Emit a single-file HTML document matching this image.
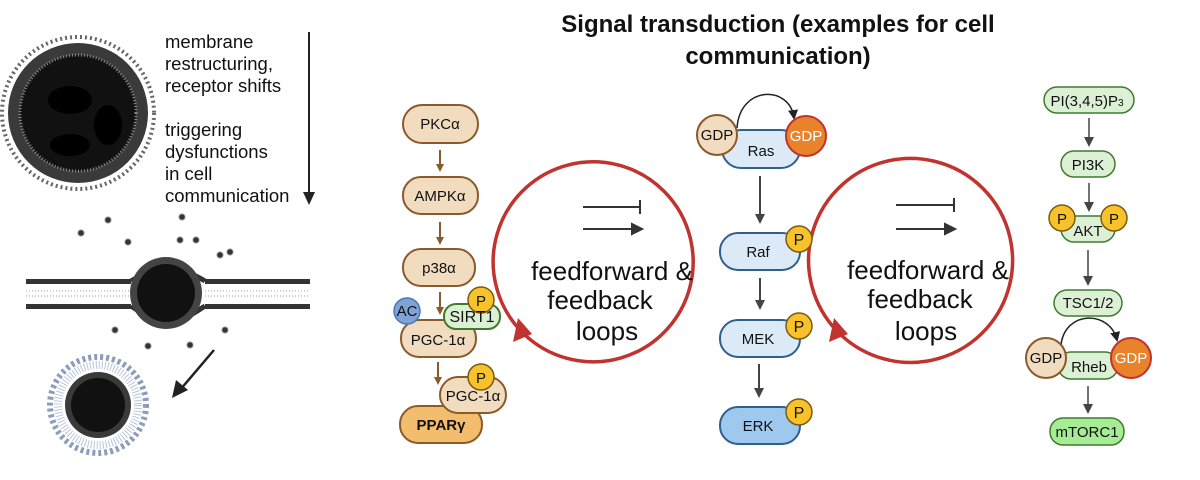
<!DOCTYPE html>
<html><head><meta charset="utf-8"><style>
html,body{margin:0;padding:0;background:#fff;}
svg{display:block;font-family:"Liberation Sans",sans-serif;}
</style></head><body>
<svg width="1200" height="480" viewBox="0 0 1200 480" xmlns="http://www.w3.org/2000/svg">
<defs>
<marker id="ab" markerWidth="8" markerHeight="8" refX="6" refY="4" orient="auto" markerUnits="userSpaceOnUse"><path d="M0,0 L8,4 L0,8 z" fill="#8a5a2b"/></marker>
<marker id="ag" markerWidth="10" markerHeight="10" refX="8" refY="5" orient="auto" markerUnits="userSpaceOnUse"><path d="M0,0 L10,5 L0,10 z" fill="#444"/></marker>
<marker id="ak" markerWidth="10" markerHeight="10" refX="8" refY="5" orient="auto" markerUnits="userSpaceOnUse"><path d="M0,0 L10,5 L0,10 z" fill="#222"/></marker>
</defs>

<!-- Left illustrations -->
<circle cx="78" cy="113" r="76" fill="none" stroke="#666" stroke-width="4" stroke-dasharray="2 3"/>
<circle cx="78" cy="113" r="70" fill="#3a3a3a"/>
<circle cx="78" cy="113" r="58" fill="#111" stroke="#888" stroke-width="3" stroke-dasharray="1 2"/>
<ellipse cx="70" cy="100" rx="22" ry="14" fill="#000"/>
<ellipse cx="108" cy="125" rx="14" ry="20" fill="#000"/>
<ellipse cx="70" cy="145" rx="20" ry="11" fill="#000"/>
<text font-size="18.5" fill="#111"><tspan x="165" y="48">membrane</tspan><tspan x="165" y="70">restructuring,</tspan><tspan x="165" y="92">receptor shifts</tspan><tspan x="165" y="136">triggering</tspan><tspan x="165" y="158">dysfunctions</tspan><tspan x="165" y="180">in cell</tspan><tspan x="165" y="202">communication</tspan></text>
<line x1="309" y1="32" x2="309" y2="195" stroke="#222" stroke-width="2"/>
<path d="M303,192 L315,192 L309,205 z" fill="#222"/>
<!-- bilayer -->
<g fill="#333">
<rect x="26" y="279" width="105" height="5"/><rect x="205" y="279" width="105" height="5"/>
<rect x="26" y="304" width="105" height="5"/><rect x="205" y="304" width="105" height="5"/>
</g>
<g stroke="#999" stroke-width="1" stroke-dasharray="1 2">
<line x1="26" y1="291" x2="131" y2="291"/><line x1="26" y1="296" x2="131" y2="296"/>
<line x1="205" y1="291" x2="310" y2="291"/><line x1="205" y1="296" x2="310" y2="296"/>
</g>
<path d="M131,281 Q145,272 160,270 M205,281 Q190,272 178,270" stroke="#333" stroke-width="5" fill="none"/>
<path d="M131,306 Q145,316 158,322 M205,306 Q190,316 178,322" stroke="#333" stroke-width="5" fill="none"/>
<circle cx="166" cy="293" r="36" fill="#444"/>
<circle cx="166" cy="293" r="29" fill="#111"/>
<g fill="#333" stroke="#888" stroke-width="1">
<circle cx="108" cy="220" r="3"/><circle cx="182" cy="217" r="3"/><circle cx="81" cy="233" r="3"/><circle cx="128" cy="242" r="3"/><circle cx="180" cy="240" r="3"/><circle cx="196" cy="240" r="3"/><circle cx="220" cy="255" r="3"/><circle cx="230" cy="252" r="3"/><circle cx="115" cy="330" r="3"/><circle cx="148" cy="346" r="3"/><circle cx="190" cy="345" r="3"/><circle cx="225" cy="330" r="3"/>
</g>
<line x1="214" y1="350" x2="180" y2="390" stroke="#222" stroke-width="2.5"/>
<path d="M172,398 L176,380 L188,390 z" fill="#222"/>
<circle cx="98" cy="405" r="48" fill="none" stroke="#8c9cbd" stroke-width="6" stroke-dasharray="3 3"/>
<circle cx="98" cy="405" r="40" fill="none" stroke="#b9c5dc" stroke-width="8" stroke-dasharray="1 2"/>
<circle cx="98" cy="405" r="33" fill="#3a3a3a"/>
<circle cx="98" cy="405" r="27" fill="#111"/>

<!-- Title -->
<text x="778" y="32" font-size="24" font-weight="bold" text-anchor="middle" fill="#111">Signal transduction (examples for cell</text>
<text x="778" y="64" font-size="24" font-weight="bold" text-anchor="middle" fill="#111">communication)</text>

<!-- Left pathway -->
<g stroke="#8a5a2b" stroke-width="2">
<line x1="440" y1="150" x2="440" y2="170" marker-end="url(#ab)"/>
<line x1="440" y1="222" x2="440" y2="243" marker-end="url(#ab)"/>
<line x1="440" y1="292" x2="440" y2="313" marker-end="url(#ab)"/>
<line x1="438" y1="362" x2="438" y2="383" marker-end="url(#ab)"/>
</g>
<g stroke="#8a5a2b" stroke-width="2" fill="#f2dcc0">
<rect x="403" y="105" width="75" height="38" rx="19"/>
<rect x="403" y="177" width="75" height="37" rx="18"/>
<rect x="403" y="249" width="72" height="37" rx="18"/>
<rect x="401" y="320" width="75" height="37" rx="18"/>
</g>
<rect x="444" y="304" width="56" height="25" rx="12" fill="#dcf0d6" stroke="#3f7a2d" stroke-width="2"/>
<circle cx="407" cy="311" r="13" fill="#7fa3d6" stroke="#4a78b5" stroke-width="1.5"/>
<circle cx="481" cy="300" r="13" fill="#f8c22a" stroke="#7a5a12" stroke-width="1.5"/>
<rect x="400" y="406" width="82" height="37" rx="18" fill="#f3bd6e" stroke="#8a5a2b" stroke-width="2"/>
<rect x="440" y="377" width="66" height="36" rx="18" fill="#f2dcc0" stroke="#8a5a2b" stroke-width="2"/>
<circle cx="481" cy="377" r="13" fill="#f8c22a" stroke="#7a5a12" stroke-width="1.5"/>
<g font-size="15" fill="#111" text-anchor="middle">
<text x="440" y="129">PKCα</text><text x="440" y="201">AMPKα</text><text x="439" y="273">p38α</text>
<text x="438" y="345">PGC-1α</text><text x="472" y="322" font-size="16">SIRT1</text>
<text x="407" y="316">AC</text><text x="481" y="306">P</text>
<text x="473" y="401">PGC-1α</text><text x="481" y="383">P</text>
<text x="441" y="430" font-weight="bold">PPARγ</text>
</g>

<!-- Loops -->
<g fill="none" stroke="#c0332f" stroke-width="3.5">
<path d="M520,330 A100,100 0 1 1 525,335"/>
<path d="M836,330 A102,102 0 1 1 841,335"/>
</g>
<path d="M513,342 L518,318 L532,334 z" fill="#c0332f"/>
<path d="M829,342 L834,318 L848,334 z" fill="#c0332f"/>
<g stroke="#333" stroke-width="2">
<line x1="583" y1="207" x2="640" y2="207"/><line x1="640" y1="200" x2="640" y2="214"/>
<line x1="583" y1="229" x2="632" y2="229"/><path d="M632,224 L642,229 L632,234 z" fill="#333"/>
<line x1="896" y1="205" x2="954" y2="205"/><line x1="954" y1="198" x2="954" y2="212"/>
<line x1="896" y1="229" x2="945" y2="229"/><path d="M945,224 L955,229 L945,234 z" fill="#333"/>
</g>
<g font-size="26" fill="#111" text-anchor="middle">
<text x="612" y="280">feedforward &amp;</text><text x="600" y="309">feedback</text><text x="607" y="340">loops</text>
<text x="928" y="279">feedforward &amp;</text><text x="920" y="308">feedback</text><text x="926" y="340">loops</text>
</g>

<!-- Middle pathway -->
<path d="M737,128 C740,85 790,85 794,118" fill="none" stroke="#222" stroke-width="1.5" marker-end="url(#ak)"/>
<g stroke="#444" stroke-width="2">
<line x1="760" y1="176" x2="760" y2="222" marker-end="url(#ag)"/>
<line x1="760" y1="278" x2="760" y2="308" marker-end="url(#ag)"/>
<line x1="759" y1="364" x2="759" y2="396" marker-end="url(#ag)"/>
</g>
<g stroke="#2f5f8f" stroke-width="2" fill="#dceaf8">
<rect x="722" y="130" width="78" height="38" rx="19"/>
<rect x="720" y="233" width="80" height="37" rx="18"/>
<rect x="720" y="320" width="80" height="37" rx="18"/>
<rect x="720" y="407" width="80" height="37" rx="18" fill="#9fc8ee"/>
</g>
<circle cx="717" cy="135" r="20" fill="#f2dcc0" stroke="#8a5a2b" stroke-width="2"/>
<circle cx="806" cy="136" r="20" fill="#e8832b" stroke="#c0332f" stroke-width="2"/>
<g fill="#f8c22a" stroke="#7a5a12" stroke-width="1.5">
<circle cx="799" cy="239" r="13"/><circle cx="799" cy="326" r="13"/><circle cx="799" cy="412" r="13"/>
</g>
<g font-size="15" fill="#111" text-anchor="middle">
<text x="761" y="156">Ras</text><text x="717" y="140">GDP</text><text x="806" y="141" fill="#fff">GDP</text>
<text x="758" y="257">Raf</text><text x="758" y="344">MEK</text><text x="758" y="431">ERK</text>
<text x="799" y="245" font-size="16">P</text><text x="799" y="332" font-size="16">P</text><text x="799" y="418" font-size="16">P</text>
</g>

<!-- Right pathway -->
<g stroke="#444" stroke-width="1.5">
<line x1="1089" y1="118" x2="1089" y2="145" marker-end="url(#ag)"/>
<line x1="1089" y1="183" x2="1089" y2="210" marker-end="url(#ag)"/>
<line x1="1088" y1="250" x2="1088" y2="284" marker-end="url(#ag)"/>
<line x1="1088" y1="386" x2="1088" y2="412" marker-end="url(#ag)"/>
</g>
<path d="M1061,345 C1065,310 1110,310 1117,340" fill="none" stroke="#222" stroke-width="1.5" marker-end="url(#ak)"/>
<g stroke="#3f7a2d" stroke-width="1.5" fill="#dcf0d6">
<rect x="1044" y="87" width="90" height="26" rx="13"/>
<rect x="1061" y="151" width="54" height="26" rx="13"/>
<rect x="1061" y="216" width="54" height="26" rx="13"/>
<rect x="1054" y="290" width="68" height="26" rx="13"/>
<rect x="1058" y="352" width="60" height="27" rx="13"/>
<rect x="1050" y="418" width="74" height="27" rx="13" fill="#a5ec95"/>
</g>
<circle cx="1062" cy="218" r="13" fill="#f8c22a" stroke="#7a5a12" stroke-width="1.5"/>
<circle cx="1114" cy="218" r="13" fill="#f8c22a" stroke="#7a5a12" stroke-width="1.5"/>
<circle cx="1046" cy="358" r="20" fill="#f2dcc0" stroke="#8a5a2b" stroke-width="2"/>
<circle cx="1131" cy="358" r="20" fill="#e8832b" stroke="#c0332f" stroke-width="2"/>
<g font-size="15" fill="#111" text-anchor="middle">
<text x="1087" y="106">PI(3,4,5)P<tspan font-size="10">3</tspan></text>
<text x="1088" y="170">PI3K</text><text x="1088" y="236">AKT</text>
<text x="1062" y="224">P</text><text x="1114" y="224">P</text>
<text x="1088" y="308">TSC1/2</text><text x="1089" y="372">Rheb</text>
<text x="1046" y="363">GDP</text><text x="1131" y="363" fill="#fff">GDP</text>
<text x="1087" y="437">mTORC1</text>
</g>
</svg>
</body></html>
